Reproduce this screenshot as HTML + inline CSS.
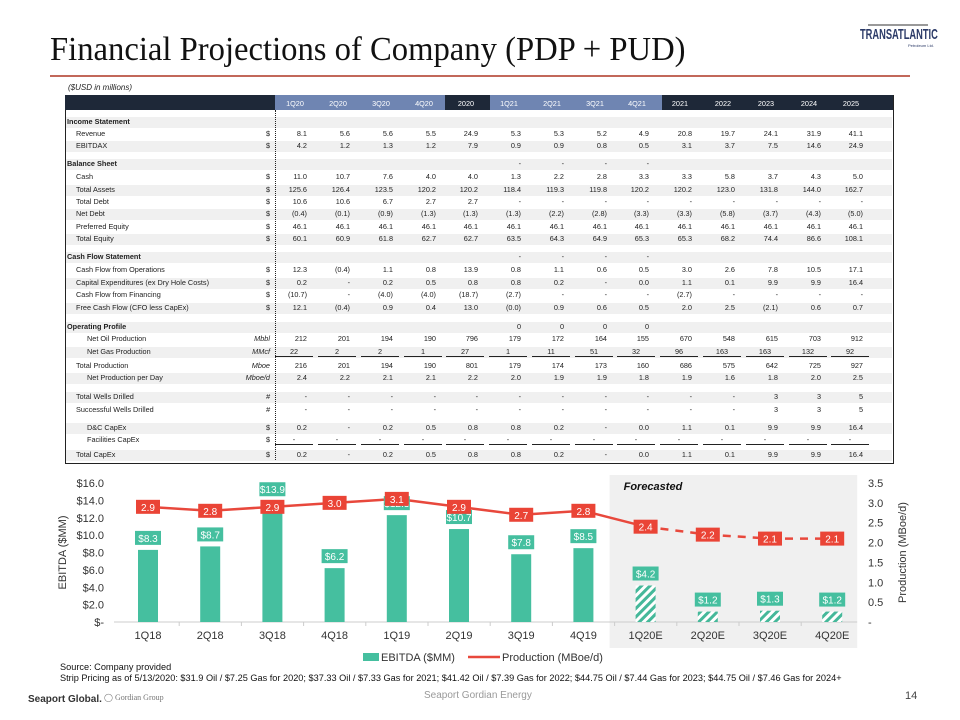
<!DOCTYPE html>
<html><head><meta charset="utf-8"><style>
body{margin:0;width:960px;height:720px;background:#fff;position:relative;overflow:hidden;font-family:"Liberation Sans",sans-serif}
.a{position:absolute}
#tbl div{position:absolute;font-size:7.3px;color:#222;white-space:nowrap}
</style></head><body>
<div class="a" style="left:50px;top:31px;font-family:'Liberation Serif',serif;font-size:34px;color:#111;transform:scaleX(0.96);transform-origin:left">Financial Projections of Company (PDP + PUD)</div>
<div class="a" style="left:50px;top:75px;width:860px;height:2px;background:#c2685a"></div>
<div class="a" style="left:858px;top:14px;width:88px;height:34px">
 <div class="a" style="left:10px;top:0;width:60px;height:10px;border-bottom:2px solid #999"></div>
 <div class="a" style="left:2px;top:12px;font:bold 15px 'Liberation Sans',sans-serif;color:#2b3a67;transform:scaleX(0.62);transform-origin:left;white-space:nowrap">TRANSATLANTIC</div>
 <div class="a" style="left:50px;top:29px;font-size:4px;color:#2b3a67">Petroleum Ltd.</div>
</div>
<div class="a" style="left:68px;top:83px;font-size:8px;font-style:italic;color:#222">($USD in millions)</div>
<div id="tbl" class="a" style="left:0;top:0;width:960px;height:470px"></div>

<svg id="chart" class="a" style="left:0;top:470px" width="960" height="200">
<defs><pattern id="hatch" width="6" height="6" patternUnits="userSpaceOnUse" patternTransform="rotate(45)"><rect width="6" height="6" fill="#fff"/><rect width="3" height="6" fill="#45b89a"/></pattern></defs>
</svg>

<div class="a" style="left:60px;top:662px;font-size:9px;color:#111;line-height:11px;white-space:nowrap;transform:scaleX(1.02);transform-origin:left">Source: Company provided<br>Strip Pricing as of 5/13/2020: $31.9 Oil / $7.25 Gas for 2020; $37.33 Oil / $7.33 Gas for 2021; $41.42 Oil / $7.39 Gas for 2022; $44.75 Oil / $7.44 Gas for 2023; $44.75 Oil / $7.46 Gas for 2024+</div>
<div class="a" style="left:28px;top:694px;font-size:10px;font-weight:bold;color:#333">Seaport Global.</div>
<div class="a" style="left:104px;top:693px;font-size:8px;color:#777;font-family:'Liberation Serif',serif">&#9711; Gordian Group</div>
<div class="a" style="left:424px;top:690px;font-size:10px;color:#999">Seaport Gordian Energy</div>
<div class="a" style="left:905px;top:690px;font-size:11px;color:#444">14</div>

<script>
// ---- table ----
const colX=[295,338,381,424,466,509,552,595,637,680,723,766,809,851];
const headers=["1Q20","2Q20","3Q20","4Q20","2020","1Q21","2Q21","3Q21","4Q21","2021","2022","2023","2024","2025"];
const rows=[
["Income Statement",0,"",null,122,1],
["Revenue",1,"$",["8.1","5.6","5.6","5.5","24.9","5.3","5.3","5.2","4.9","20.8","19.7","24.1","31.9","41.1"],134,0],
["EBITDAX",1,"$",["4.2","1.2","1.3","1.2","7.9","0.9","0.9","0.8","0.5","3.1","3.7","7.5","14.6","24.9"],146,1],
["Balance Sheet",0,"",["","","","","","-","-","-","-","","","","",""],164,1],
["Cash",1,"$",["11.0","10.7","7.6","4.0","4.0","1.3","2.2","2.8","3.3","3.3","5.8","3.7","4.3","5.0"],177,0],
["Total Assets",1,"$",["125.6","126.4","123.5","120.2","120.2","118.4","119.3","119.8","120.2","120.2","123.0","131.8","144.0","162.7"],190,1],
["Total Debt",1,"$",["10.6","10.6","6.7","2.7","2.7","-","-","-","-","-","-","-","-","-"],202,0],
["Net Debt",1,"$",["(0.4)","(0.1)","(0.9)","(1.3)","(1.3)","(1.3)","(2.2)","(2.8)","(3.3)","(3.3)","(5.8)","(3.7)","(4.3)","(5.0)"],214,1],
["Preferred Equity",1,"$",["46.1","46.1","46.1","46.1","46.1","46.1","46.1","46.1","46.1","46.1","46.1","46.1","46.1","46.1"],227,0],
["Total Equity",1,"$",["60.1","60.9","61.8","62.7","62.7","63.5","64.3","64.9","65.3","65.3","68.2","74.4","86.6","108.1"],239,1],
["Cash Flow Statement",0,"",["","","","","","-","-","-","-","","","","",""],257,1],
["Cash Flow from Operations",1,"$",["12.3","(0.4)","1.1","0.8","13.9","0.8","1.1","0.6","0.5","3.0","2.6","7.8","10.5","17.1"],270,0],
["Capital Expenditures (ex Dry Hole Costs)",1,"$",["0.2","-","0.2","0.5","0.8","0.8","0.2","-","0.0","1.1","0.1","9.9","9.9","16.4"],283,1],
["Cash Flow from Financing",1,"$",["(10.7)","-","(4.0)","(4.0)","(18.7)","(2.7)","-","-","-","(2.7)","-","-","-","-"],295,0],
["Free Cash Flow (CFO less CapEx)",1,"$",["12.1","(0.4)","0.9","0.4","13.0","(0.0)","0.9","0.6","0.5","2.0","2.5","(2.1)","0.6","0.7"],308,1],
["Operating Profile",0,"",["","","","","","0","0","0","0","","","","",""],327,1],
["Net Oil Production",2,"Mbbl",["212","201","194","190","796","179","172","164","155","670","548","615","703","912"],339,0],
["Net Gas Production",2,"MMcf",["22","2","2","1","27","1","11","51","32","96","163","163","132","92"],352,1,1],
["Total Production",1,"Mboe",["216","201","194","190","801","179","174","173","160","686","575","642","725","927"],366,0],
["Net Production per Day",2,"Mboe/d",["2.4","2.2","2.1","2.1","2.2","2.0","1.9","1.9","1.8","1.9","1.6","1.8","2.0","2.5"],378,1],
["Total Wells Drilled",1,"#",["-","-","-","-","-","-","-","-","-","-","-","3","3","5"],397,1],
["Successful Wells Drilled",1,"#",["-","-","-","-","-","-","-","-","-","-","-","3","3","5"],410,0],
["D&C CapEx",2,"$",["0.2","-","0.2","0.5","0.8","0.8","0.2","-","0.0","1.1","0.1","9.9","9.9","16.4"],428,1],
["Facilities CapEx",2,"$",["-","-","-","-","-","-","-","-","-","-","-","-","-","-"],440,0,1],
["Total CapEx",1,"$",["0.2","-","0.2","0.5","0.8","0.8","0.2","-","0.0","1.1","0.1","9.9","9.9","16.4"],455,1]
];
const T=document.getElementById('tbl');
function box(l,t,w,h,bg){const d=document.createElement('div');d.style.cssText=`left:${l}px;top:${t}px;width:${w}px;height:${h}px;background:${bg}`;T.appendChild(d);return d;}
const frame=box(65,95,827,367,'transparent');frame.style.border='1.5px solid #222';


rows.forEach(r=>{if(r[5]){const b=box(66,r[4]-5,826,11,'#f0f0f0');

}});
const hb=box(65,95,828,15,'#1e2838');


[[275,445],[490,662]].forEach(s=>{const q=box(s[0],95,s[1]-s[0],15,'#6f85b2');

});
const dl=box(275,110,0,350,'transparent');dl.style.borderLeft='1.2px dotted #222';


headers.forEach((h,i)=>{const d=document.createElement('div');d.textContent=h;d.style.cssText=`left:${colX[i]-20}px;width:40px;text-align:center;top:99px;color:#fff;font-size:7.3px`;


T.appendChild(d);});
rows.forEach(r=>{
 const l=document.createElement('div');l.textContent=r[0];l.style.cssText=`left:${67+[0,9,20][r[1]]}px;top:${r[4]-5}px;${r[1]==0?'font-weight:bold':''}`;
 
 
 T.appendChild(l);
 if(r[2]){const u=document.createElement('div');u.textContent=r[2];u.style.cssText=`left:220px;width:50px;text-align:right;top:${r[4]-5}px;font-style:${r[2]=='$'?'normal':'italic'}`;
 
 
 T.appendChild(u);}
 if(r[3])r[3].forEach((v,i)=>{const c=document.createElement('div');c.textContent=v;c.style.cssText=`left:${colX[i]-20}px;width:${r[6]?38:32}px;text-align:${r[6]?'center':'right'};top:${r[4]-5}px;${r[6]?'border-bottom:1px solid #222;':''}`;
 
 
 T.appendChild(c);});
});

// ---- chart ----
const categories=["1Q18","2Q18","3Q18","4Q18","1Q19","2Q19","3Q19","4Q19","1Q20E","2Q20E","3Q20E","4Q20E"];
const ebitda=[8.3,8.7,13.9,6.2,12.3,10.7,7.8,8.5,4.2,1.2,1.3,1.2];
const production=[2.9,2.8,2.9,3.0,3.1,2.9,2.7,2.8,2.4,2.2,2.1,2.1];
const leftTicks=[0,2,4,6,8,10,12,14,16];
const rightTicks=[0,0.5,1,1.5,2,2.5,3,3.5];
const forecastStart=8;
const S=document.getElementById('chart');const NS='http://www.w3.org/2000/svg';
const y0=152,yTop=13;
const yL=v=>y0-(v/16)*(y0-yTop);
const yR=v=>y0-(v/3.5)*(y0-yTop);
const xC=i=>148+i*62.2;
function el(t,a,txt){const e=document.createElementNS(NS,t);for(const k in a)e.setAttribute(k,a[k]);if(txt!=null)e.textContent=txt;S.appendChild(e);return e;}
const fb=el('rect',{x:xC(forecastStart)-36,y:5,width:(xC(11)+25)-(xC(forecastStart)-36),height:173,fill:'#f0f0f0'});


const ft=el('text',{x:xC(forecastStart)-22,y:20,'font-size':11,'font-weight':'bold','font-style':'italic',fill:'#111'},'Forecasted');


const ax=el('line',{x1:114,x2:xC(11)+25,y1:y0,y2:y0,stroke:'#ccc'});


leftTicks.forEach(v=>{const t=el('text',{x:104,y:yL(v)+4,'text-anchor':'end','font-size':11,fill:'#333'},v==0?'$-':'$'+v.toFixed(1));

});
rightTicks.forEach(v=>{const t=el('text',{x:868,y:yR(v)+4,'font-size':11,fill:'#333'},v==0?'-':v.toFixed(1));

});
const lt=el('text',{transform:`translate(66,${(y0+yTop)/2}) rotate(-90)`,'text-anchor':'middle','font-size':11,fill:'#333'},'EBITDA ($MM)');


const rt=el('text',{transform:`translate(906,${(y0+yTop)/2}) rotate(-90)`,'text-anchor':'middle','font-size':11,fill:'#333'},'Production (MBoe/d)');


categories.forEach((c,i)=>{
 const t=el('text',{x:xC(i),y:y0+17,'text-anchor':'middle','font-size':11,fill:'#333'},c);
 
 
 if(i>0){const tk=el('line',{x1:xC(i)-31,x2:xC(i)-31,y1:y0,y2:y0+4,stroke:'#ccc'});
 
 }
 const b=el('rect',{x:xC(i)-10,y:yL(ebitda[i]),width:20,height:y0-yL(ebitda[i]),fill:i>=forecastStart?'url(#hatch)':'#45bf9f'});
 
 
});
for(let i=0;i<categories.length-1;i++){
 const seg=el('line',{x1:xC(i),y1:yR(production[i]),x2:xC(i+1),y2:yR(production[i+1]),stroke:'#e8483c','stroke-width':2.5});
 if(i>=forecastStart)seg.setAttribute('stroke-dasharray','8,7');
 
 
}
categories.forEach((c,i)=>{
 const by=yL(ebitda[i])-19;
 const lb=el('rect',{x:xC(i)-13,y:by,width:26,height:14,fill:'#45bf9f'});
 
 
 const lx=el('text',{x:xC(i),y:by+11,'text-anchor':'middle','font-size':10,fill:'#fff'},'$'+ebitda[i].toFixed(1));
 
 
 const py=yR(production[i])-7;
 const pb=el('rect',{x:xC(i)-12,y:py,width:24,height:14,fill:'#ea4436'});
 
 
 const px=el('text',{x:xC(i),y:py+11,'text-anchor':'middle','font-size':10,fill:'#fff'},production[i].toFixed(1));
 
 
});
const l1=el('rect',{x:363,y:183,width:16,height:8,fill:'#45bf9f'});


const l1t=el('text',{x:381,y:191,'font-size':11,fill:'#333'},'EBITDA ($MM)');


const l2=el('line',{x1:468,x2:500,y1:187,y2:187,stroke:'#e8483c','stroke-width':2.5});


const l2t=el('text',{x:502,y:191,'font-size':11,fill:'#333'},'Production (MBoe/d)');


</script>
</body></html>
